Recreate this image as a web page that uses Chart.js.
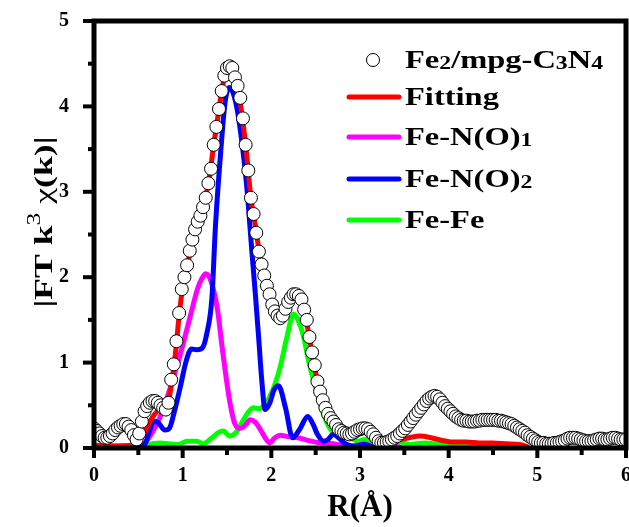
<!DOCTYPE html>
<html>
<head>
<meta charset="utf-8">
<script>
// draw lines with plain canvas paths instead of cached Path2D objects
try { window.Path2D = undefined; } catch (e) {}
</script>
<script src="https://cdn.jsdelivr.net/npm/chart.js@4.4.1/dist/chart.umd.min.js"></script>
<style>
  html, body { margin: 0; padding: 0; background: #fff; }
</style>
</head>
<body>
<canvas id="ftChart" width="629" height="527"></canvas>
<script>
// --- DATA ---
// experimental |FT k3 chi(k)|, sampled every 0.03 A from 0 to 6
const R_STEP = 0.03;
const EXP_Y = [
    0.23, 0.20, 0.17, 0.14, 0.12, 0.12, 0.14, 0.17, 0.21, 0.24,
    0.26, 0.28, 0.28, 0.25, 0.21, 0.15, 0.10, 0.17, 0.31, 0.43,
    0.49, 0.53, 0.55, 0.55, 0.53, 0.50, 0.47, 0.45, 0.53, 0.80,
    0.98, 1.25, 1.58, 1.86, 2.00, 2.14, 2.31, 2.44, 2.56, 2.65,
    2.72, 2.82, 2.93, 3.10, 3.27, 3.55, 3.76, 3.97, 4.18, 4.36,
    4.45, 4.47, 4.45, 4.34, 4.24, 4.10, 3.86, 3.55, 3.25, 2.93,
    2.74, 2.52, 2.30, 2.15, 2.02, 1.90, 1.80, 1.68, 1.60, 1.55,
    1.52, 1.55, 1.63, 1.71, 1.76, 1.80, 1.80, 1.78, 1.74, 1.62,
    1.50, 1.30, 1.12, 0.97, 0.78, 0.66, 0.56, 0.47, 0.40, 0.35,
    0.31, 0.27, 0.22, 0.20, 0.18, 0.17, 0.16, 0.17, 0.19, 0.21,
    0.22, 0.23, 0.23, 0.22, 0.19, 0.16, 0.12, 0.08, 0.06, 0.06,
    0.07, 0.08, 0.10, 0.12, 0.14, 0.17, 0.20, 0.23, 0.27, 0.31,
    0.35, 0.39, 0.43, 0.47, 0.51, 0.55, 0.58, 0.60, 0.61, 0.60,
    0.57, 0.53, 0.49, 0.46, 0.43, 0.40, 0.37, 0.35, 0.33, 0.32,
    0.32, 0.31, 0.31, 0.31, 0.32, 0.32, 0.33, 0.33, 0.33, 0.33,
    0.33, 0.33, 0.32, 0.32, 0.31, 0.30, 0.29, 0.28, 0.26, 0.24,
    0.22, 0.20, 0.18, 0.15, 0.13, 0.11, 0.09, 0.07, 0.06, 0.06,
    0.05, 0.05, 0.05, 0.06, 0.06, 0.07, 0.08, 0.09, 0.11, 0.12,
    0.12, 0.12, 0.11, 0.10, 0.09, 0.08, 0.08, 0.08, 0.09, 0.10,
    0.11, 0.11, 0.10, 0.10, 0.11, 0.12, 0.12, 0.11, 0.10, 0.10, 0.10
];

const FIT_R = [0.00, 0.20, 0.40, 0.50, 0.58, 0.66, 0.74, 0.82, 0.87, 0.92, 0.96, 1.00, 1.05, 1.10, 1.15, 1.20, 1.25, 1.30, 1.35, 1.40, 1.45, 1.50, 1.53, 1.57, 1.62, 1.67, 1.72, 1.77, 1.82, 1.87, 1.92, 1.97, 2.02, 2.07, 2.11, 2.16, 2.21, 2.27, 2.32, 2.37, 2.42, 2.47, 2.52, 2.57, 2.62, 2.67, 2.72, 2.80, 2.90, 3.00, 3.07, 3.15, 3.22, 3.30, 3.42, 3.55, 3.68, 3.80, 3.92, 4.05, 4.20, 4.35, 4.50, 4.65, 4.80, 4.90];
const FIT_Y = [0.03, 0.02, 0.03, 0.07, 0.20, 0.36, 0.45, 0.49, 0.72, 1.12, 1.55, 1.88, 2.12, 2.38, 2.57, 2.72, 2.90, 3.16, 3.55, 3.90, 4.24, 4.43, 4.46, 4.42, 4.22, 3.90, 3.45, 2.93, 2.60, 2.26, 2.02, 1.83, 1.65, 1.55, 1.52, 1.62, 1.75, 1.80, 1.77, 1.62, 1.35, 1.05, 0.78, 0.60, 0.45, 0.35, 0.28, 0.20, 0.17, 0.21, 0.22, 0.16, 0.09, 0.06, 0.09, 0.12, 0.14, 0.12, 0.09, 0.07, 0.07, 0.06, 0.06, 0.05, 0.04, 0.01];

const FEN1_R = [0.00, 0.20, 0.40, 0.55, 0.65, 0.74, 0.84, 0.93, 1.00, 1.08, 1.17, 1.22, 1.26, 1.29, 1.33, 1.39, 1.45, 1.53, 1.59, 1.65, 1.71, 1.76, 1.82, 1.88, 1.93, 1.98, 2.04, 2.10, 2.20, 2.30, 2.41, 2.55, 2.70, 2.86, 2.96, 3.05, 3.16, 3.27, 3.37, 3.47];
const FEN1_Y = [0.03, 0.02, 0.02, 0.04, 0.17, 0.35, 0.64, 0.94, 1.20, 1.52, 1.87, 1.99, 2.04, 2.02, 1.92, 1.64, 1.14, 0.55, 0.28, 0.23, 0.27, 0.33, 0.30, 0.21, 0.12, 0.06, 0.12, 0.15, 0.13, 0.12, 0.09, 0.06, 0.05, 0.02, 0.03, 0.05, 0.01, 0.03, 0.03, 0.00];

const FEN2_R = [0.00, 0.30, 0.50, 0.57, 0.62, 0.67, 0.72, 0.80, 0.85, 0.90, 0.97, 1.04, 1.10, 1.16, 1.22, 1.27, 1.33, 1.37, 1.43, 1.48, 1.53, 1.58, 1.63, 1.72, 1.78, 1.82, 1.86, 1.89, 1.93, 1.98, 2.03, 2.08, 2.16, 2.24, 2.32, 2.41, 2.47, 2.52, 2.59, 2.64, 2.70, 2.76, 2.82, 2.93, 3.05, 3.15];
const FEN2_Y = [0.02, 0.02, 0.02, 0.04, 0.18, 0.31, 0.30, 0.21, 0.23, 0.40, 0.70, 1.02, 1.16, 1.15, 1.17, 1.33, 1.76, 2.60, 3.48, 4.06, 4.22, 4.12, 3.87, 3.09, 2.31, 1.80, 1.25, 0.82, 0.45, 0.52, 0.68, 0.73, 0.47, 0.12, 0.22, 0.37, 0.28, 0.16, 0.08, 0.10, 0.16, 0.12, 0.06, 0.02, 0.04, 0.01];

const FEFE_R = [0.00, 0.30, 0.55, 0.66, 0.75, 0.84, 0.95, 1.05, 1.16, 1.23, 1.32, 1.40, 1.46, 1.53, 1.60, 1.67, 1.74, 1.80, 1.86, 1.92, 2.02, 2.10, 2.18, 2.25, 2.30, 2.36, 2.42, 2.50, 2.58, 2.65, 2.74, 2.82, 2.90, 2.98, 3.06, 3.14, 3.24, 3.35, 3.45, 3.56, 3.73, 3.90, 4.10, 4.30, 4.50, 4.70, 4.85];
const FEFE_Y = [0.03, 0.02, 0.02, 0.05, 0.06, 0.05, 0.04, 0.08, 0.08, 0.05, 0.11, 0.18, 0.20, 0.14, 0.18, 0.30, 0.42, 0.47, 0.46, 0.50, 0.69, 0.95, 1.32, 1.57, 1.50, 1.32, 1.02, 0.70, 0.42, 0.25, 0.14, 0.12, 0.11, 0.08, 0.10, 0.06, 0.01, 0.06, 0.07, 0.04, 0.06, 0.04, 0.03, 0.04, 0.03, 0.03, 0.01];

const X_MIN = 0, X_MAX = 6;
const Y_MIN = 0, Y_MAX = 5;
const LABELS = ['Fe2/mpg-C3N4', 'Fitting', 'Fe-N(O)1', 'Fe-N(O)2', 'Fe-Fe'];
const COLORS = ['#000000', '#ff0000', '#ff00ff', '#0000ff', '#00ff00'];

const SERIF = '"Liberation Serif", "Times New Roman", serif';

const pts = (xs, ys) => ys.map((y, i) => ({ x: xs[i], y: y }));
const EXP_R = EXP_Y.map((_, i) => +(i * R_STEP).toFixed(2));

// digits are drawn as subscripts, horizontally widened like the source fonts
function drawRichText(ctx, text, x, y, size, sx) {
    ctx.save();
    ctx.translate(x, y);
    ctx.scale(sx, 1);
    ctx.textBaseline = 'alphabetic';
    ctx.textAlign = 'left';
    let cx = 0;
    text.split(/(\d+)/).forEach(part => {
        if (!part) return;
        const isSub = /^\d+$/.test(part);
        ctx.font = 'bold ' + (isSub ? Math.round(size * 0.72) : size) + 'px ' + SERIF;
        ctx.fillText(part, cx, isSub ? 1 : 0);
        cx += ctx.measureText(part).width;
    });
    ctx.restore();
}

function drawYTitle(ctx) {
    ctx.save();
    ctx.fillStyle = '#000';
    ctx.translate(52, 222);
    ctx.rotate(-Math.PI / 2);
    ctx.textBaseline = 'alphabetic';
    ctx.textAlign = 'left';
    const parts = [
        ['|FT k', 'bold 25px ' + SERIF, 0],
        ['3', '18px ' + SERIF, -12],
        [' \u03c7', '25px ' + SERIF, 0],
        ['(k)|', 'bold 25px ' + SERIF, 0]
    ];
    let total = 0;
    parts.forEach(p => { ctx.font = p[1]; total += ctx.measureText(p[0]).width; });
    ctx.scale(171 / total, 1);
    let cx = -total / 2;
    parts.forEach(p => {
        ctx.font = p[1];
        ctx.fillText(p[0], cx, p[2]);
        cx += ctx.measureText(p[0]).width;
    });
    ctx.restore();
}

function drawLegend(ctx) {
    const rows = [60, 97, 137, 179, 220];
    ctx.save();
    rows.forEach((ry, i) => {
        if (i === 0) {
            ctx.beginPath();
            ctx.arc(373, ry, 6.5, 0, Math.PI * 2);
            ctx.fillStyle = '#fff';
            ctx.fill();
            ctx.lineWidth = 1;
            ctx.strokeStyle = '#000';
            ctx.stroke();
        } else {
            ctx.beginPath();
            ctx.moveTo(349, ry);
            ctx.lineTo(399, ry);
            ctx.lineWidth = 5;
            ctx.lineCap = 'round';
            ctx.strokeStyle = COLORS[i];
            ctx.stroke();
        }
        ctx.fillStyle = '#000';
        drawRichText(ctx, LABELS[i], 405, ry + 8, 26, 1.25);
    });
    ctx.restore();
}

// frame geometry is taken from the scales right after layout
let frameGeo = null;

function drawFrame(ctx) {
    if (!frameGeo) return;
    const g = frameGeo;
    ctx.save();
    ctx.strokeStyle = '#000';
    ctx.lineCap = 'butt';
    ctx.lineWidth = 4;
    g.xTicks.forEach(t => {
        ctx.beginPath();
        ctx.moveTo(t.px, g.bottom);
        ctx.lineTo(t.px, g.bottom + (t.major ? 10 : 7));
        ctx.stroke();
    });
    g.yTicks.forEach(t => {
        ctx.beginPath();
        ctx.moveTo(g.left, t.py);
        ctx.lineTo(g.left - (t.major ? 11 : 6), t.py);
        ctx.stroke();
    });
    ctx.lineWidth = 5;
    ctx.lineJoin = 'miter';
    ctx.beginPath();
    ctx.moveTo(g.left, g.top);
    ctx.lineTo(g.right, g.top);
    ctx.lineTo(g.right, g.bottom);
    ctx.lineTo(g.left, g.bottom);
    ctx.closePath();
    ctx.stroke();
    ctx.restore();
}

const annotatePlugin = {
    id: 'annotate',
    afterLayout(chart) {
        const a = chart.chartArea;
        const xs = chart.scales.x, ys = chart.scales.y;
        const xTicks = [], yTicks = [];
        for (let i = X_MIN * 2; i <= X_MAX * 2; i++) {
            xTicks.push({ px: xs.getPixelForValue(i / 2), major: i % 2 === 0 });
        }
        for (let i = Y_MIN * 2; i <= Y_MAX * 2; i++) {
            yTicks.push({ py: ys.getPixelForValue(i / 2), major: i % 2 === 0 });
        }
        frameGeo = { left: a.left, right: a.right, top: a.top, bottom: a.bottom, xTicks, yTicks };
    },
    afterDraw(chart) {
        const ctx = chart.ctx;
        drawYTitle(ctx);
        drawLegend(ctx);
        drawFrame(ctx);
    }
};

const lineSet = (label, xs, ys, color) => ({
    label: label,
    data: pts(xs, ys),
    showLine: true,
    borderColor: color,
    backgroundColor: color,
    borderWidth: 5,
    pointRadius: 0,
    cubicInterpolationMode: 'monotone'
});

const tickFont = { family: SERIF, size: 20, weight: 'bold' };

new Chart(document.getElementById('ftChart'), {
    type: 'scatter',
    data: {
        datasets: [
            {
                label: LABELS[0],
                data: pts(EXP_R, EXP_Y),
                showLine: false,
                pointRadius: 6.5,
                pointBorderWidth: 1,
                pointBorderColor: '#000',
                pointBackgroundColor: '#fff'
            },
            lineSet(LABELS[1], FIT_R, FIT_Y, COLORS[1]),
            lineSet(LABELS[3], FEN2_R, FEN2_Y, COLORS[3]),
            lineSet(LABELS[2], FEN1_R, FEN1_Y, COLORS[2]),
            lineSet(LABELS[4], FEFE_R, FEFE_Y, COLORS[4])
        ]
    },
    options: {
        responsive: false,
        animation: false,
        layout: { autoPadding: false, padding: { top: 21, right: 3, left: 0, bottom: 0 } },
        plugins: {
            legend: { display: false },
            tooltip: { enabled: false }
        },
        scales: {
            x: {
                type: 'linear',
                min: X_MIN,
                max: X_MAX,
                grid: { display: false },
                border: { display: false },
                ticks: {
                    stepSize: 1,
                    color: '#000',
                    padding: 8,
                    font: tickFont
                },
                title: {
                    display: true,
                    text: 'R(Å)',
                    color: '#000',
                    padding: { top: 0, bottom: 0 },
                    font: { family: SERIF, size: 31, weight: 'bold' }
                },
                afterFit(scale) {
                    scale.height = 79;
                    scale.paddingLeft = 0;
                    scale.paddingRight = 0;
                }
            },
            y: {
                type: 'linear',
                min: Y_MIN,
                max: Y_MAX,
                grid: { display: false },
                border: { display: false },
                ticks: {
                    stepSize: 1,
                    color: '#000',
                    padding: 17,
                    font: tickFont
                },
                afterFit(scale) {
                    scale.width = 94;
                    scale.paddingTop = 0;
                    scale.paddingBottom = 0;
                }
            }
        }
    },
    plugins: [annotatePlugin]
});
</script>
</body>
</html>
